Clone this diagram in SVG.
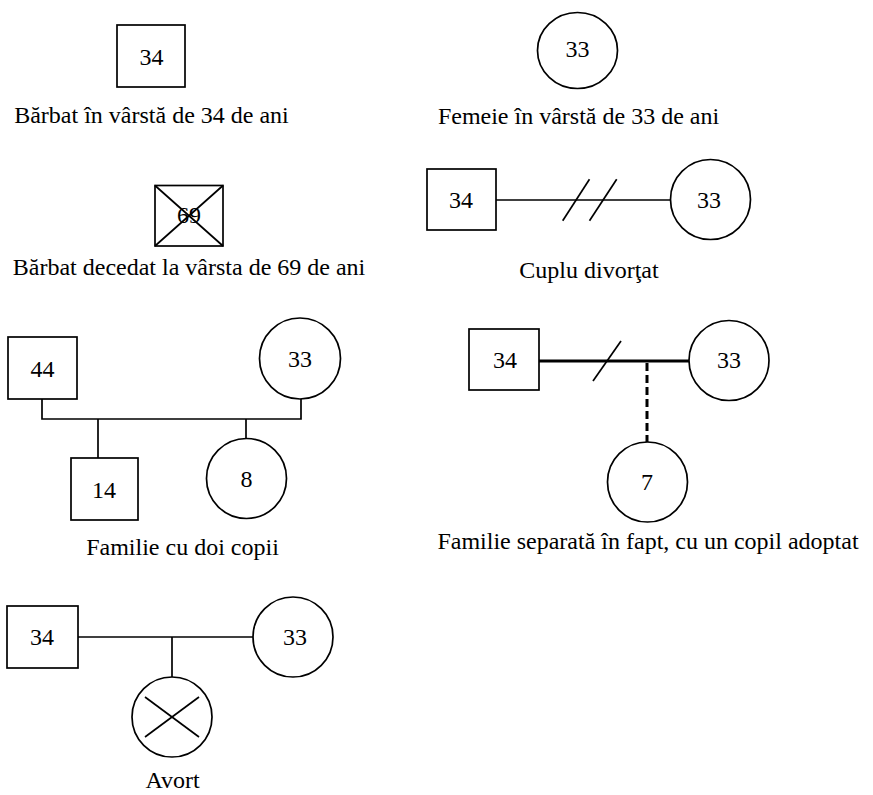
<svg xmlns="http://www.w3.org/2000/svg" width="873" height="795" viewBox="0 0 873 795">
  <style>
    .shape { fill: none; stroke: #000; stroke-width: 1.7; }
    .link { fill: none; stroke: #000; stroke-width: 1.7; }
    .bold { stroke-width: 3; }
    .dash { stroke-width: 3; stroke-dasharray: 8 4; }
    .num { font-family: "Liberation Serif", "Times New Roman", Times, serif; font-size: 24px; fill: #000; text-anchor: middle; }
    .cap { font-family: "Liberation Serif", "Times New Roman", Times, serif; font-size: 24px; fill: #000; text-anchor: middle; }
  </style>
  <rect width="873" height="795" fill="#fff"/>

  <!-- connectors -->
  <g id="connectors">
    <!-- divorced couple -->
    <line class="link" x1="496" y1="200" x2="671" y2="200"/>
    <line class="link" x1="562.7" y1="220.7" x2="589.5" y2="179.3"/>
    <line class="link" x1="589.5" y1="220.7" x2="616.7" y2="179.3"/>
    <!-- family with two children -->
    <polyline class="link" points="42,399 42,419 301,419 301,399"/>
    <line class="link" x1="98" y1="419" x2="98" y2="458"/>
    <line class="link" x1="246" y1="419" x2="246" y2="438"/>
    <!-- separated family, adopted child -->
    <line class="link bold" x1="539" y1="361" x2="689" y2="361"/>
    <line class="link" x1="593" y1="381" x2="621" y2="341"/>
    <line class="link dash" x1="647" y1="363" x2="647" y2="442"/>
    <!-- abortion -->
    <line class="link" x1="78" y1="637" x2="253" y2="637"/>
    <line class="link" x1="172" y1="637" x2="172" y2="677"/>
  </g>

  <!-- male, 34 -->
  <g id="male-34">
    <rect class="shape" x="117" y="25" width="68" height="62"/>
    <text class="num" x="151.5" y="65">34</text>
    <text class="cap" x="151.5" y="123">Bărbat în vârstă de 34 de ani</text>
  </g>

  <!-- female, 33 -->
  <g id="female-33">
    <ellipse class="shape" cx="577.5" cy="50.5" rx="40" ry="38"/>
    <text class="num" x="577.5" y="57">33</text>
    <text class="cap" x="578.5" y="124">Femeie în vârstă de 33 de ani</text>
  </g>

  <!-- deceased male, 69 -->
  <g id="deceased-69">
    <rect class="shape" x="155" y="185.5" width="68" height="60.5"/>
    <text class="num" x="189" y="223">69</text>
    <line class="shape" x1="155" y1="185.5" x2="223" y2="246"/>
    <line class="shape" x1="223" y1="185.5" x2="155" y2="246"/>
    <text class="cap" x="189" y="275">Bărbat decedat la vârsta de 69 de ani</text>
  </g>

  <!-- divorced couple -->
  <g id="divorced-male">
    <rect class="shape" x="427" y="169" width="69" height="61"/>
    <text class="num" x="461" y="208">34</text>
  </g>
  <g id="divorced-female">
    <circle class="shape" cx="710.5" cy="199.5" r="40"/>
    <text class="num" x="709" y="208">33</text>
  </g>
  <g id="divorced-caption">
    <text class="cap" x="589" y="278">Cuplu divorţat</text>
  </g>

  <!-- family with two children -->
  <g id="family-father">
    <rect class="shape" x="8" y="337" width="69" height="62"/>
    <text class="num" x="42.5" y="377">44</text>
  </g>
  <g id="family-mother">
    <circle class="shape" cx="300" cy="358.5" r="40.5"/>
    <text class="num" x="300" y="367">33</text>
  </g>
  <g id="family-son">
    <rect class="shape" x="71" y="458" width="67" height="62"/>
    <text class="num" x="104" y="498">14</text>
  </g>
  <g id="family-daughter">
    <circle class="shape" cx="246.5" cy="478.5" r="40"/>
    <text class="num" x="246.5" y="487">8</text>
  </g>
  <g id="family-caption">
    <text class="cap" x="182.5" y="555">Familie cu doi copii</text>
  </g>

  <!-- separated family with adopted child -->
  <g id="separated-male">
    <rect class="shape" x="469" y="329" width="70" height="61"/>
    <text class="num" x="505" y="368">34</text>
  </g>
  <g id="separated-female">
    <circle class="shape" cx="729" cy="360.5" r="40"/>
    <text class="num" x="729" y="368">33</text>
  </g>
  <g id="adopted-child">
    <circle class="shape" cx="647.5" cy="482" r="40"/>
    <text class="num" x="647" y="490">7</text>
  </g>
  <g id="separated-caption">
    <text class="cap" x="648" y="549">Familie separată în fapt, cu un copil adoptat</text>
  </g>

  <!-- abortion -->
  <g id="abortion-male">
    <rect class="shape" x="7" y="606" width="71" height="62"/>
    <text class="num" x="42" y="645">34</text>
  </g>
  <g id="abortion-female">
    <circle class="shape" cx="293" cy="637" r="40"/>
    <text class="num" x="295" y="645">33</text>
  </g>
  <g id="abortion">
    <circle class="shape" cx="172" cy="717" r="40"/>
    <line class="shape" x1="145" y1="697" x2="199" y2="737"/>
    <line class="shape" x1="145" y1="737" x2="199" y2="697"/>
    <text class="cap" x="172.5" y="788">Avort</text>
  </g>
</svg>
